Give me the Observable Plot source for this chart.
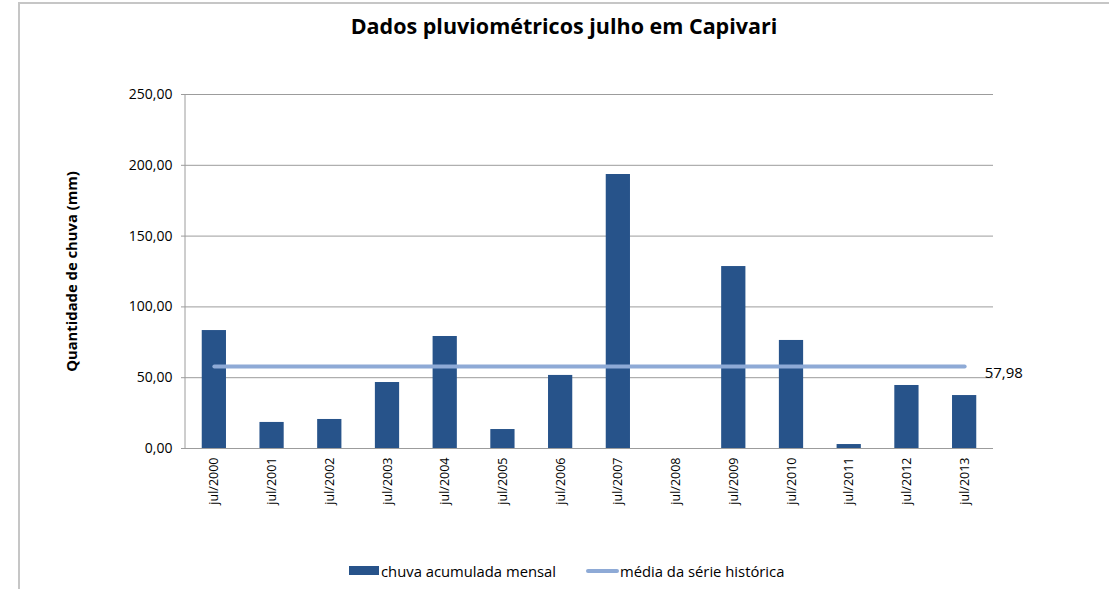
<!DOCTYPE html>
<html><head><meta charset="utf-8">
<script src="https://cdn.jsdelivr.net/npm/d3@7"></script>
<script src="https://cdn.jsdelivr.net/npm/@observablehq/plot@0.6"></script>
<style>
body{margin:0;background:#fff;font-family:"Open Sans",sans-serif;color:#000;}
#wrap{position:relative;width:1109px;height:589px;overflow:hidden;background:#fff;}
#frame{position:absolute;left:18px;top:2px;width:1200px;height:700px;border-top:2px solid #c6c6c6;border-left:2px solid #c6c6c6;}
#title{position:absolute;top:11px;left:0;width:1128px;text-align:center;font-weight:bold;font-size:21.5px;line-height:30px;white-space:nowrap;}
#chart{position:absolute;left:0;top:60px;}
.lg{position:absolute;font-size:14.8px;line-height:18px;white-space:nowrap;}
.sw{position:absolute;}
</style>
</head><body>
<div id="wrap">
  <div id="frame"></div>
  <div id="title"></div>
  <div id="chart"></div>
  <div id="legend"></div>
</div>
<script>
const chartTitle = "Dados pluviométricos julho em Capivari";
const yLabel = "Quantidade de chuva (mm)";
const categories = ["jul/2000","jul/2001","jul/2002","jul/2003","jul/2004","jul/2005","jul/2006","jul/2007","jul/2008","jul/2009","jul/2010","jul/2011","jul/2012","jul/2013"];
const rainfall = [83.3, 18.4, 20.5, 46.6, 79.1, 13.4, 51.6, 193.5, 0, 128.5, 76.3, 2.8, 44.5, 37.4];
const historicalMean = 57.98;
const yTicks = [0, 50, 100, 150, 200, 250];
const seriesNames = ["chuva acumulada mensal", "média da série histórica"];
const barColor = "#27538a";
const lineColor = "#8eaad6";

const fmt = d => d.toFixed(2).replace(".", ",");
const data = categories.map((c, i) => ({month: c, rain: rainfall[i], mean: historicalMean}));

document.getElementById("title").textContent = chartTitle;

const chart = Plot.plot({
  width: 1109,
  height: 460,
  marginTop: 34,
  marginBottom: 72,
  marginLeft: 185,
  marginRight: 116,
  style: {fontFamily: "'Open Sans', sans-serif", fontSize: "12px", color: "#000", background: "transparent"},
  x: {domain: categories, paddingInner: 0.58, paddingOuter: 0.29, round: false, label: null},
  y: {domain: [0, 250], label: null},
  marks: [
    Plot.ruleY(yTicks, {stroke: "#9c9c9c", strokeWidth: 1}),
    Plot.barY(data, {x: "month", y: "rain", fill: barColor}),
    Plot.lineY(data, {x: "month", y: "mean", stroke: lineColor, strokeWidth: 4, strokeLinecap: "round"}),
    Plot.text(data.slice(-1), {x: "month", y: "mean", text: d => fmt(d.mean), dx: 20, dy: 7, textAnchor: "start", fontSize: 15}),
    Plot.axisY({ticks: yTicks, tickFormat: fmt, tickSize: 4, tickPadding: 9, stroke: "#9c9c9c", fontSize: 14,
      label: yLabel, labelAnchor: "center", labelArrow: "none", labelOffset: 119}),
    Plot.axisX({tickSize: 0, tickPadding: 9, tickRotate: -90, fontSize: 12.5, label: null})
  ]
});
document.getElementById("chart").appendChild(chart);

// left axis line at the frame's left edge, from the scales
const xs = chart.scale("x"), ys = chart.scale("y");
const svg = d3.select(chart);
svg.append("line")
  .attr("x1", xs.range[0]).attr("x2", xs.range[0])
  .attr("y1", ys.apply(250)).attr("y2", ys.apply(0))
  .attr("stroke", "#9c9c9c");
// y label bold
svg.selectAll("g[aria-label='y-axis label']").style("font-weight", "bold").style("font-size", "14.8px");

// legend
const lg = document.getElementById("legend");
lg.innerHTML = `
<div class="sw" style="left:349px;top:566px;width:30px;height:9px;background:${barColor}"></div>
<div class="lg" style="left:381px;top:562px">${seriesNames[0]}</div>
<div class="sw" style="left:586px;top:569px;width:33px;height:4px;border-radius:2px;background:${lineColor}"></div>
<div class="lg" style="left:620px;top:562px">${seriesNames[1]}</div>`;
</script>
</body></html>
